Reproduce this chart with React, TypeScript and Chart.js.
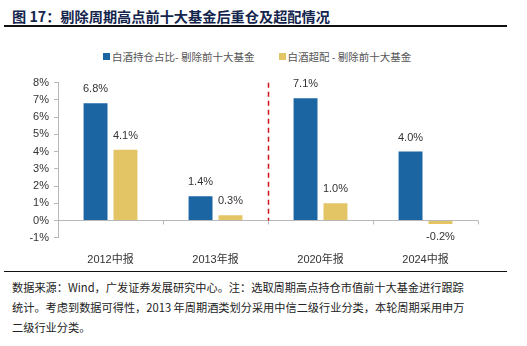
import React, { useEffect, useRef } from "react";
import { Chart, registerables } from "chart.js";

Chart.register(...registerables);

const categories = ["2012中报", "2013年报", "2020年报", "2024中报"];
const holdingShare = [6.8, 1.4, 7.1, 4.0];
const overweight = [4.1, 0.3, 1.0, -0.2];
const seriesNames = ["白酒持仓占比- 剔除前十大基金", "白酒超配 - 剔除前十大基金"];
const yMin = -1;
const yMax = 8;

const BLUE = "#1c65a3";
const GOLD = "#e4c566";

const overlayPlugin = {
  id: "overlay",
  beforeDatasetsDraw(chart: any) {
    const { ctx, chartArea, scales } = chart;
    const y0 = scales.y.getPixelForValue(0);
    ctx.save();
    ctx.strokeStyle = "#b8b8b8";
    ctx.lineWidth = 1;
    ctx.beginPath();
    ctx.moveTo(chartArea.left, Math.round(y0) + 0.5);
    ctx.lineTo(chartArea.right, Math.round(y0) + 0.5);
    const n = categories.length;
    const w = (chartArea.right - chartArea.left) / n;
    for (let i = 1; i <= n; i++) {
      const x = Math.round(chartArea.left + i * w) + 0.5;
      ctx.moveTo(x, y0);
      ctx.lineTo(x, y0 + 4);
    }
    ctx.stroke();
    // red dashed divider
    const xd = Math.round(chartArea.left + 2 * w) + 0.5;
    ctx.strokeStyle = "#d0101a";
    ctx.lineWidth = 1.5;
    ctx.setLineDash([5, 4]);
    ctx.beginPath();
    ctx.moveTo(xd, scales.y.getPixelForValue(yMax));
    ctx.lineTo(xd, y0);
    ctx.stroke();
    ctx.restore();
  },
  afterDatasetsDraw(chart: any) {
    const { ctx } = chart;
    ctx.save();
    ctx.font = "11px 'Liberation Sans', Arial, sans-serif";
    ctx.fillStyle = "#333";
    ctx.textAlign = "center";
    ctx.textBaseline = "middle";
    chart.data.datasets.forEach((ds: any, di: number) => {
      const meta = chart.getDatasetMeta(di);
      meta.data.forEach((bar: any, i: number) => {
        const v = ds.data[i];
        const txt = v.toFixed(1) + "%";
        const y = v >= 0 ? bar.y - 14 : bar.y + 13;
        ctx.fillText(txt, bar.x, y);
      });
    });
    ctx.restore();
  },
};

function ChartBox() {
  const ref = useRef<HTMLCanvasElement>(null);
  useEffect(() => {
    const chart = new Chart(ref.current as HTMLCanvasElement, {
      type: "bar",
      data: {
        labels: categories,
        datasets: [
          { label: seriesNames[0], data: holdingShare, backgroundColor: BLUE, barPercentage: 0.8, categoryPercentage: 0.57 },
          { label: seriesNames[1], data: overweight, backgroundColor: GOLD, barPercentage: 0.8, categoryPercentage: 0.57 },
        ],
      },
      options: {
        animation: false,
        responsive: false,
        maintainAspectRatio: false,
        layout: { padding: { left: 0, right: 49, top: 42.7, bottom: 0 } },
        plugins: { legend: { display: false }, tooltip: { enabled: false } },
        scales: {
          x: {
            grid: { display: false },
            border: { display: false },
            ticks: {
              color: "#333",
              padding: 8,
              font: { size: 11, family: "'Liberation Sans', 'Noto Sans CJK SC', sans-serif" },
            },
            afterFit(scale: any) {
              scale.height = 32.3;
            },
          },
          y: {
            min: yMin,
            max: yMax,
            ticks: {
              stepSize: 1,
              color: "#333",
              padding: 5,
              font: { size: 11, family: "'Liberation Sans', Arial, sans-serif" },
              callback: (v: any) => v + "%",
            },
            grid: { drawOnChartArea: false, tickLength: 4, color: "#b8b8b8" },
            border: { display: true, color: "#b8b8b8" },
            afterFit(scale: any) {
              scale.width = 58;
            },
          },
        },
      },
      plugins: [overlayPlugin],
    });
    return () => chart.destroy();
  }, []);
  return <canvas ref={ref} width={527} height={230} style={{ position: "absolute", left: 0, top: 40, width: 527, height: 230 }} />;
}

const footerLines = [
  "数据来源：Wind，广发证券发展研究中心。注：选取周期高点持仓市值前十大基金进行跟踪",
  "统计。考虑到数据可得性，2013 年周期酒类划分采用中信二级行业分类，本轮周期采用申万",
  "二级行业分类。",
];

export default function App() {
  const cjk = "'Noto Sans CJK SC', 'Liberation Sans', sans-serif";
  return (
    <div style={{ position: "fixed", left: 0, top: 0, width: 527, height: 346, background: "#fff", overflow: "hidden" }}>
      <div style={{ position: "absolute", left: 12, top: 6, fontFamily: cjk, fontWeight: 700, fontSize: 14.2, lineHeight: "20px", color: "#14254d", whiteSpace: "nowrap" }}>
        图 17：剔除周期高点前十大基金后重仓及超配情况
      </div>
      <div style={{ position: "absolute", left: 4, top: 25, width: 503, height: 1.5, background: "#111" }} />
      <div style={{ position: "absolute", left: 103, top: 48, height: 16, display: "flex", alignItems: "center", fontFamily: cjk, fontSize: 10.5, color: "#555", whiteSpace: "nowrap" }}>
        <span style={{ display: "inline-block", width: 7, height: 7, background: BLUE, marginRight: 2 }} />
        <span>{seriesNames[0]}</span>
        <span style={{ display: "inline-block", width: 7, height: 7, background: GOLD, marginLeft: 24, marginRight: 2 }} />
        <span>{seriesNames[1]}</span>
      </div>
      <ChartBox />
      <div style={{ position: "absolute", left: 4, top: 271, width: 503, height: 1.2, background: "#111" }} />
      <div style={{ position: "absolute", left: 12, top: 277, fontFamily: cjk, fontSize: 11.2, lineHeight: "20px", color: "#222", whiteSpace: "nowrap" }}>
        {footerLines.map((l, i) => (
          <div key={i}>{l}</div>
        ))}
      </div>
    </div>
  );
}
